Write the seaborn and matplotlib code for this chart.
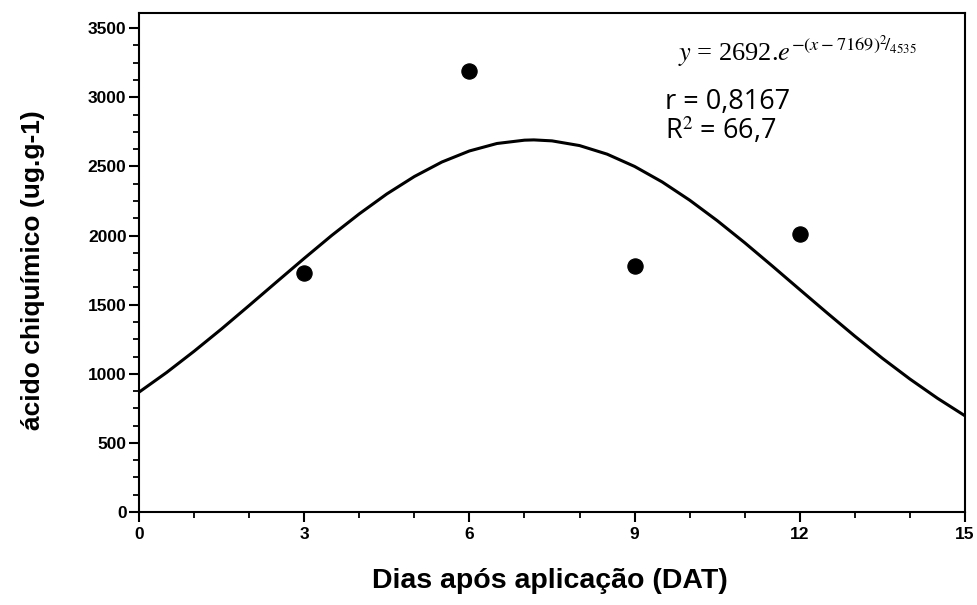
import matplotlib
matplotlib.use("Agg")
import matplotlib.pyplot as plt
import seaborn as sns
import pandas as pd
from matplotlib.ticker import MultipleLocator

# observed data
dias = [3, 6, 9, 12]
acido = [1730, 3190, 1780, 2010]

# fitted curve
curva_x = [0, 0.5, 1, 1.5, 2, 2.5, 3, 3.5, 4, 4.5, 5, 5.5, 6, 6.5, 7, 7.17, 7.5,
           8, 8.5, 9, 9.5, 10, 10.5, 11, 11.5, 12, 12.5, 13, 13.5, 14, 14.5, 15]
curva_y = [867, 1009, 1163, 1325, 1494, 1665, 1835, 2001, 2157, 2301, 2427, 2532,
           2612, 2666, 2690, 2692, 2685, 2651, 2589, 2500, 2388, 2256, 2108, 1948,
           1780, 1609, 1439, 1272, 1112, 962, 823, 696]

x_ticks = [0, 3, 6, 9, 12, 15]
y_ticks = [0, 500, 1000, 1500, 2000, 2500, 3000, 3500]

sns.set_theme(style="ticks")
plt.rcParams['font.family'] = ['Liberation Sans', 'DejaVu Sans']
plt.rcParams['mathtext.fontset'] = 'stix'
plt.rcParams['text.color'] = 'black'
plt.rcParams['axes.labelcolor'] = 'black'

fig = plt.figure(figsize=(9.77, 6.05), dpi=100)
ax = fig.add_axes([0.1423, 0.1537, 0.8454, 0.8248])

pts = pd.DataFrame({"x": dias, "y": acido})
cur = pd.DataFrame({"x": curva_x, "y": curva_y})

sns.lineplot(data=cur, x="x", y="y", ax=ax, color="black", linewidth=2.2, sort=True,
             solid_joinstyle="round")
sns.scatterplot(data=pts, x="x", y="y", ax=ax, color="black", s=120, edgecolor="black", zorder=5)

ax.set_xlim(0, 15)
ax.set_ylim(0, 3610)
ax.set_xticks(x_ticks)
ax.set_yticks(y_ticks)
ax.xaxis.set_minor_locator(MultipleLocator(1))
ax.yaxis.set_minor_locator(MultipleLocator(125))
ax.tick_params(axis="both", which="major", direction="out", length=7, width=1.5,
               labelsize=12.5, color="black", labelcolor="black")
ax.tick_params(axis="x", which="major", pad=4)
ax.tick_params(axis="y", which="major", pad=2)
ax.tick_params(axis="both", which="minor", direction="out", length=4, width=1.3, color="black")
for lab in ax.get_xticklabels() + ax.get_yticklabels():
    lab.set_fontweight("bold")
for sp in ax.spines.values():
    sp.set_linewidth(1.5)
    sp.set_color("black")

ax.set_xlabel("Dias após aplicação (DAT)", fontsize=20.5, fontweight="bold")
ax.set_ylabel("ácido chiquímico (ug.g-1)", fontsize=19, fontweight="bold")
ax.xaxis.set_label_coords(0.497, -0.112)
ax.yaxis.set_label_coords(-0.114, 0.485)

ax.text(0.652, 0.905, r"$y$ = 2692.$e^{-(x-7169)^{2}\!/_{4535}}$", transform=ax.transAxes,
        fontsize=19, family="Liberation Serif", ha="left", va="baseline")
ax.text(0.637, 0.822, "r = 0,8167", transform=ax.transAxes, fontsize=19.5,
        family=["Open Sans", "DejaVu Sans"], ha="left", va="center")
ax.text(0.637, 0.765, r"R$^{2}$ = 66,7", transform=ax.transAxes, fontsize=19.5,
        family=["Open Sans", "DejaVu Sans"], ha="left", va="center")

fig.savefig("out.png", dpi=100)
